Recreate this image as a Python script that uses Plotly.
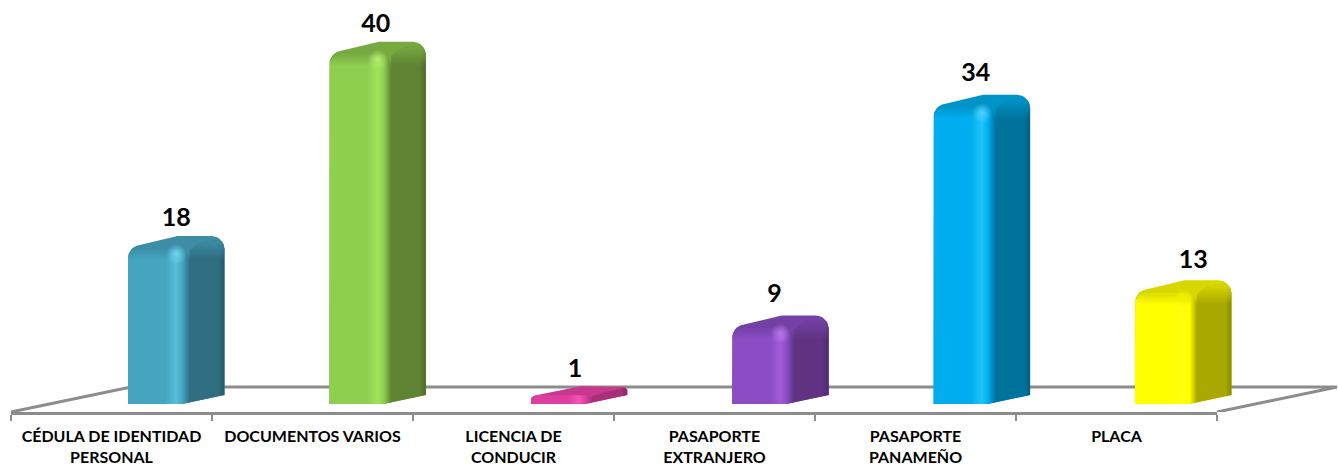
import math
import plotly.graph_objects as go

# ---- data ----
categories = ["CÉDULA DE IDENTIDAD<br>PERSONAL", "DOCUMENTOS VARIOS", "LICENCIA DE<br>CONDUCIR",
              "PASAPORTE<br>EXTRANJERO", "PASAPORTE<br>PANAMEÑO", "PLACA"]
values = [18, 40, 1, 9, 34, 13]

# ---- styles ----
front_colors = ["#45A5C1", "#8ECF50", "#DE3F9F", "#8B4CC4", "#00AEEF", "#FFFF00"]
light_colors = ["#56BEDB", "#A0E25A", "#F555B5", "#A25AD8", "#20C4FA", "#FFFF10"]
spot_colors = ["#6FD8F2", "#B8F070", "#FF78C8", "#B878EC", "#50D4FF", "#F0F000"]
dark_colors = ["#2F6D80", "#5F8233", "#A82F78", "#5F3382", "#00739D", "#A8A800"]
edge_colors = ["#255A6B", "#4E6C29", "#8E2765", "#4E2A6C", "#005F82", "#8A8A00"]
top_colors = ["#3C8DA5", "#77A941", "#C8388E", "#7440A5", "#0093C8", "#D8D800"]
label_shift = [0, -2, -4, -6, -6, 10]
label_lift = [4, 4, 3, 7, 8, 6]

# ---- layout scales ----
W, H = 1338, 466
CAT_PX = 201.0          # pixels per category
BAR_STEP = 201.4 / CAT_PX
UNIT_PX = 8.83          # pixels per value unit
AXIS_LEFT, AXIS_RIGHT = 11, 1217
BASE_PX, FLOOR_PX, BACK_PX = 404, 412, 387
FRONT_OFFSET = 117 / CAT_PX - 0.5
FRONT_W, SIDE_W, DEPTH = 62 / CAT_PX, 34.5 / CAT_PX, 9 / UNIT_PX
RX, RY = 13 / CAT_PX, 13 / UNIT_PX
BAND = 11 / UNIT_PX
floor_y = (BASE_PX - FLOOR_PX) / UNIT_PX
back_y = (BASE_PX - BACK_PX) / UNIT_PX
skew = 120 / CAT_PX


def corner(cx, cy, rx, ry, a0, a1, n=8):
    return [(cx + rx * math.cos(math.radians(a0 + (a1 - a0) * k / n)),
             cy + ry * math.sin(math.radians(a0 + (a1 - a0) * k / n))) for k in range(n + 1)]


def poly(points, **kw):
    xs = [p[0] for p in points] + [points[0][0]]
    ys = [p[1] for p in points] + [points[0][1]]
    return go.Scatter(x=xs, y=ys, xaxis="x2", yaxis="y", mode="lines", fill="toself",
                      line=dict(width=0), hoverinfo="skip", showlegend=False, **kw)


def clear(hex_color):
    return "rgba(%d,%d,%d,0)" % (int(hex_color[1:3], 16), int(hex_color[3:5], 16), int(hex_color[5:7], 16))


def band(points, color, low, high):
    return poly(points, fillgradient=dict(
        type="vertical", start=low, stop=high,
        colorscale=[[0, clear(color)], [1, color]]))


fig = go.Figure()

# category axis carrier
fig.add_trace(go.Scatter(x=categories, y=values, xaxis="x", yaxis="y", mode="none",
                         hoverinfo="skip", showlegend=False))

# floor outline
left = -0.5
right = 5.5
fig.add_trace(go.Scatter(
    x=[left, left + skew, right + skew, right], y=[floor_y, back_y, back_y, floor_y],
    xaxis="x2", yaxis="y", mode="lines", line=dict(color="#8C8C8C", width=3),
    hoverinfo="skip", showlegend=False))

label_x, label_y = [], []
for i, v in enumerate(values):
    x0 = i * BAR_STEP + FRONT_OFFSET
    x1 = x0 + FRONT_W
    x2 = x1 + SIDE_W
    rise = min(RY, v * 0.5)
    rx = min(RX, RX * v / 5 + 4 / CAT_PX)
    sil = [(x0, 0)]
    sil += corner(x0 + rx, v - rise, rx, rise, 180, 100)
    sil += [(x0 + 0.66 * FRONT_W + 0.25 * SIDE_W, v + DEPTH)]
    sil += corner(x2 - rx, v + DEPTH - rise, rx, rise, 90, 0)
    sil += [(x2, DEPTH), (x1 - 8 / CAT_PX, 0)]
    # whole silhouette in top colour
    fig.add_trace(poly(sil, fillcolor=top_colors[i]))

    # side face
    side_top = v - min(5 / UNIT_PX, v * 0.1)
    side_arc = corner(x2 - rx, v + DEPTH - rise, rx, rise * 0.8, 60, 0)
    side = [(x1 - 8 / CAT_PX, 0), (x1, side_top)]
    side += [(x1 + 0.3 * SIDE_W, v + DEPTH * 0.3)]
    side += side_arc
    side += [(x2, DEPTH)]
    fig.add_trace(poly(side, fillgradient=dict(
        type="horizontal",
        colorscale=[[0, light_colors[i]], [0.12, dark_colors[i]], [0.85, dark_colors[i]], [1, edge_colors[i]]])))
    if v > 3:
        low = v + DEPTH - rise - BAND
        fig.add_trace(band([(x1, low), (x1, side_top), (x1 + 0.3 * SIDE_W, v + DEPTH * 0.3)]
                           + side_arc + [(x2, low)], top_colors[i], low, v + DEPTH * 0.5))

    # front face
    frise = min(RY * 0.8, v * 0.5)
    ftop = v - (0 if v < 2 else 4 / UNIT_PX)
    arc_l = corner(x0 + rx, ftop - frise, rx, frise, 180, 90)
    arc_r = corner(x1 - rx, ftop - frise, rx, frise, 90, 0)
    front = [(x0, 0)] + arc_l + arc_r + [(x1, 2 / UNIT_PX), (x1 - 8 / CAT_PX, 0)]
    fig.add_trace(poly(front, fillgradient=dict(
        type="horizontal",
        colorscale=[[0, front_colors[i]], [0.6, front_colors[i]], [0.78, light_colors[i]],
                    [0.88, front_colors[i]], [1, dark_colors[i]]])))
    if v > 3:
        low = ftop - BAND
        fig.add_trace(band([(x0, low)] + arc_l + arc_r + [(x1, low)], top_colors[i], low, ftop + 1 / UNIT_PX))

    # soft highlight on the rounded shoulder
    if v > 3:
        fig.add_trace(go.Scatter(
            x=[x0 + 0.78 * FRONT_W], y=[v - 9 / UNIT_PX], xaxis="x2", yaxis="y", mode="markers",
            marker=dict(size=20, color=clear(spot_colors[i]), line=dict(width=0),
                        gradient=dict(type="radial", color=spot_colors[i])),
            hoverinfo="skip", showlegend=False))

    label_x.append(x0 + (FRONT_W + SIDE_W) / 2 + label_shift[i] / CAT_PX)
    label_y.append(v + DEPTH + label_lift[i] / UNIT_PX)

# value labels
fig.add_trace(go.Scatter(
    x=label_x, y=label_y, xaxis="x2", yaxis="y", mode="text",
    text=[str(v) for v in values], textposition="top center",
    textfont=dict(family="Lato", size=25, color="#000000", weight=700),
    hoverinfo="skip", showlegend=False, cliponaxis=False))

fig.update_layout(
    width=W, height=H, margin=dict(l=0, r=0, t=0, b=0),
    paper_bgcolor="#FFFFFF", plot_bgcolor="rgba(0,0,0,0)", showlegend=False,
    xaxis=dict(
        type="category", domain=[AXIS_LEFT / W, AXIS_RIGHT / W], range=[-0.5, 5.5],
        categoryorder="array", categoryarray=categories, tickson="boundaries",
        ticks="outside", ticklen=6, tickwidth=1.5, tickcolor="#8C8C8C",
        showline=True, linecolor="#8C8C8C", linewidth=3, showgrid=False, zeroline=False,
        tickfont=dict(family="Lato", size=16, color="#000000", weight=700),
        ticklabelstandoff=8,
        tickangle=0, anchor="y", automargin=False, fixedrange=True),
    xaxis2=dict(
        domain=[0, 1], range=[-AXIS_LEFT / CAT_PX - 0.5, (W - AXIS_LEFT) / CAT_PX - 0.5],
        visible=False, fixedrange=True, anchor="y"),
    yaxis=dict(
        domain=[(H - FLOOR_PX) / H, 1], range=[floor_y, BASE_PX / UNIT_PX],
        visible=False, fixedrange=True),
)

fig.write_html("out.html", config=dict(displayModeBar=False),
               post_script="document.body.style.margin='0';")
